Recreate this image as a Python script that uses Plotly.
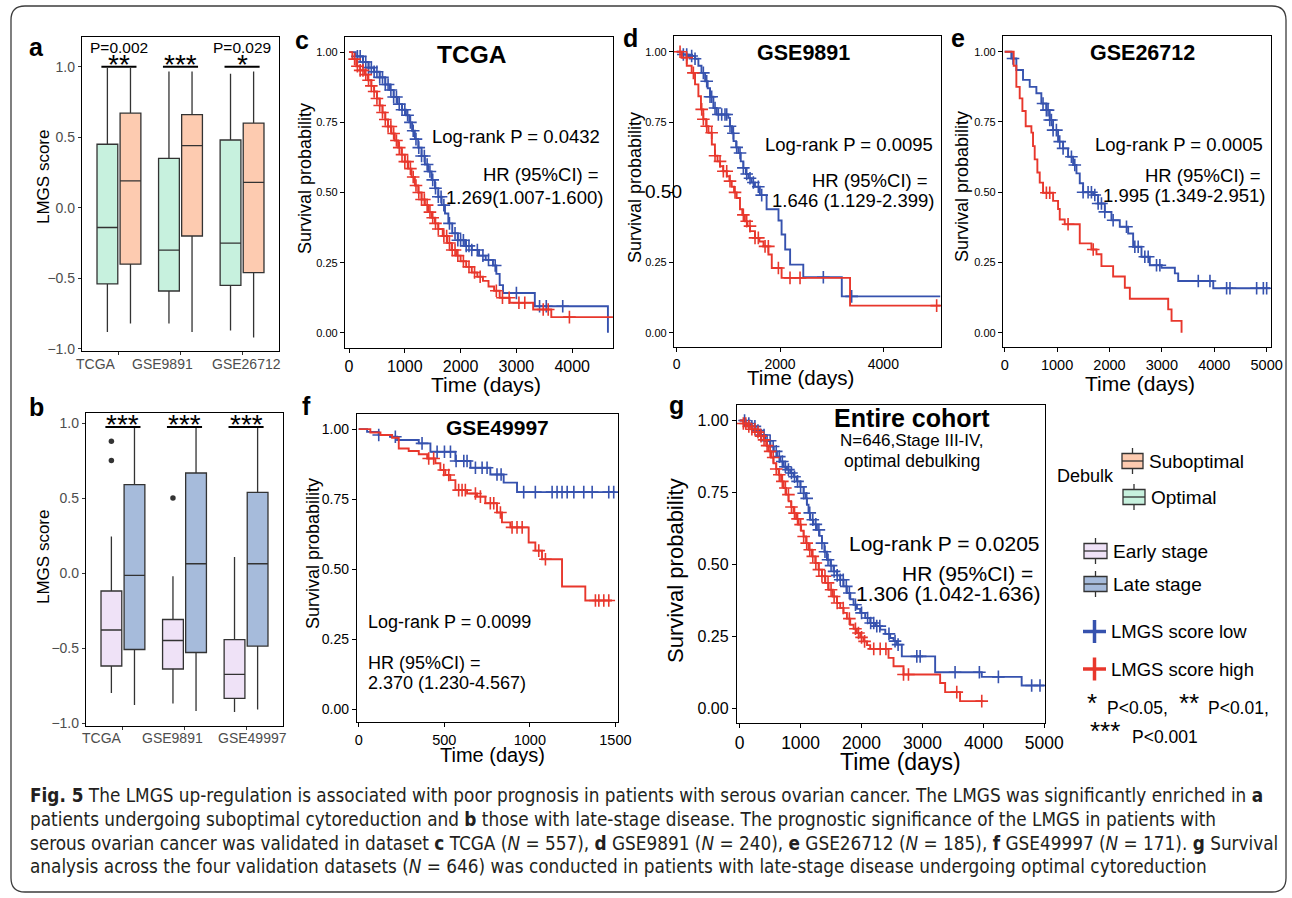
import numpy as np
import plotly.graph_objects as go

W, H = 1292, 898
FONT = "Liberation Sans, Arial, sans-serif"
BLUE = "#3652AE"
RED = "#E8372C"

# ---------------- data: panel a (Debulk) ----------------
a_groups = ["TCGA", "GSE9891", "GSE26712"]
a_opt_low = [-0.88, -0.82, -0.87]
a_opt_q1 = [-0.54, -0.59, -0.55]
a_opt_med = [-0.14, -0.30, -0.25]
a_opt_q3 = [0.45, 0.35, 0.48]
a_opt_high = [0.99, 0.965, 0.95]
a_sub_low = [-0.82, -0.88, -0.92]
a_sub_q1 = [-0.40, -0.20, -0.46]
a_sub_med = [0.19, 0.44, 0.18]
a_sub_q3 = [0.67, 0.66, 0.60]
a_sub_high = [0.99, 0.965, 0.965]
a_stars = ["**", "***", "*"]
a_pvals = ["P=0.002", "", "P=0.029"]

# ---------------- data: panel b (Stage) ----------------
b_groups = ["TCGA", "GSE9891", "GSE49997"]
b_early_low = [-0.80, -0.87, -0.927]
b_early_q1 = [-0.62, -0.64, -0.836]
b_early_med = [-0.38, -0.45, -0.676]
b_early_q3 = [-0.12, -0.31, -0.444]
b_early_high = [0.244, -0.022, 0.107]
b_early_out = [[0.878, 0.751], [0.50], []]
b_late_low = [-0.88, -0.92, -0.91]
b_late_q1 = [-0.51, -0.53, -0.487]
b_late_med = [-0.016, 0.062, 0.062]
b_late_q3 = [0.59, 0.667, 0.538]
b_late_high = [0.967, 0.967, 0.967]
b_stars = ["***", "***", "***"]

# ---------------- data: KM curves ----------------
# panel c: TCGA
c_low_t = [0, 120, 250, 350, 450, 550, 650, 730, 800, 870, 950, 1020, 1080, 1130, 1180, 1240, 1300, 1360,
           1420, 1480, 1540, 1600, 1660, 1720, 1780, 1850, 1950, 2080, 2200, 2330, 2450, 2580, 2640, 2700,
           2760, 3330, 4640]
c_low_s = [1.0, 0.985, 0.965, 0.945, 0.93, 0.91, 0.885, 0.865, 0.84, 0.815, 0.795, 0.775, 0.75, 0.72, 0.69,
           0.66, 0.63, 0.60, 0.575, 0.545, 0.515, 0.485, 0.455, 0.425, 0.39, 0.355, 0.33, 0.31, 0.295, 0.275,
           0.26, 0.24, 0.21, 0.17, 0.142, 0.095, 0.0]
c_low_end = 4640
c_low_cens = [150, 200, 250, 300, 350, 400, 450, 500, 550, 600, 650, 700, 750, 800, 850, 900, 950, 1000, 1050,
              1100, 1150, 1200, 1250, 1300, 1350, 1400, 1450, 1500, 1550, 1600, 1650, 1700, 1800, 1900, 1950,
              2000, 2050, 2100, 2150, 2200, 2300, 2400, 2500, 2620, 3000, 3415, 3535, 3830]
c_high_t = [0, 60, 130, 200, 280, 340, 400, 450, 500, 550, 600, 650, 700, 760, 820, 880, 940, 1000, 1060, 1120,
            1180, 1240, 1300, 1360, 1420, 1480, 1540, 1600, 1680, 1760, 1840, 1920, 2000, 2100, 2200, 2300,
            2400, 2500, 2600, 2700, 2880, 3300, 3625]
c_high_s = [1.0, 0.975, 0.95, 0.935, 0.92, 0.90, 0.88, 0.86, 0.835, 0.81, 0.785, 0.76, 0.735, 0.71, 0.685,
            0.66, 0.635, 0.61, 0.585, 0.555, 0.525, 0.50, 0.475, 0.455, 0.43, 0.41, 0.39, 0.37, 0.345, 0.32,
            0.295, 0.275, 0.255, 0.235, 0.215, 0.20, 0.185, 0.165, 0.15, 0.125, 0.107, 0.083, 0.056]
c_high_end = 4730
c_high_cens = [100, 150, 200, 250, 300, 350, 400, 450, 500, 550, 600, 650, 700, 750, 800, 850, 900, 950, 1000,
               1050, 1100, 1150, 1200, 1250, 1300, 1350, 1400, 1450, 1500, 1550, 1600, 1700, 1750, 1800, 1850,
               1900, 1950, 2050, 2150, 2250, 2350, 2640, 2750, 2870, 3045, 3150, 3480, 3570, 3950]

# panel d: GSE9891
d_low_t = [0, 100, 200, 355, 420, 480, 550, 600, 645, 710, 775, 1000, 1030, 1070, 1100, 1150, 1195, 1240, 1290,
           1340, 1390, 1450, 1515, 1610, 1740, 1970, 2030, 2100, 2195, 2450, 3195]
d_low_s = [1.0, 0.99, 0.985, 0.975, 0.95, 0.925, 0.895, 0.87, 0.84, 0.80, 0.777, 0.765, 0.735, 0.71, 0.682,
           0.66, 0.64, 0.61, 0.587, 0.565, 0.55, 0.535, 0.52, 0.49, 0.44, 0.40, 0.35, 0.297, 0.243, 0.198, 0.13]
d_low_end = 5100
d_low_cens = [129, 194, 290, 355, 516, 581, 645, 677, 742, 806, 871, 935, 968, 1032, 1097, 1161, 1226, 1290,
              1355, 1419, 1484, 1580, 1645, 2838, 3386]
d_high_t = [0, 100, 195, 290, 355, 420, 470, 515, 570, 615, 680, 740, 790, 840, 900, 970, 1020, 1065, 1110,
            1160, 1225, 1270, 1320, 1370, 1420, 1515, 1600, 1680, 1775, 1840, 2030, 3355]
d_high_s = [1.0, 0.979, 0.95, 0.925, 0.884, 0.842, 0.795, 0.76, 0.735, 0.712, 0.67, 0.63, 0.61, 0.593, 0.575,
            0.557, 0.54, 0.52, 0.50, 0.48, 0.44, 0.42, 0.397, 0.38, 0.362, 0.338, 0.325, 0.308, 0.279, 0.231,
            0.196, 0.097]
d_high_end = 5100
d_high_cens = [65, 194, 323, 484, 516, 581, 677, 742, 839, 903, 968, 1032, 1129, 1290, 1355, 1419, 1516, 1580,
               1710, 1774, 1968, 2193, 2387, 5031]

# panel e: GSE26712
e_low_t = [0, 127, 223, 350, 478, 605, 700, 796, 860, 924, 1019, 1115, 1210, 1306, 1370, 1433, 1497, 1688,
           1783, 1911, 2038, 2197, 2357, 2452, 2611, 2770, 2994, 3248, 3312, 3981]
e_low_s = [1.0, 0.976, 0.935, 0.90, 0.875, 0.852, 0.816, 0.792, 0.757, 0.721, 0.68, 0.656, 0.626, 0.597,
           0.567, 0.532, 0.50, 0.49, 0.46, 0.43, 0.40, 0.377, 0.353, 0.306, 0.27, 0.24, 0.231, 0.211, 0.184,
           0.158]
e_low_end = 5064
e_low_cens = [159, 732, 796, 828, 860, 892, 924, 987, 1051, 1115, 1274, 1338, 1497, 1592, 1656, 1720, 1784,
              1847, 1911, 2070, 2325, 2484, 2548, 2675, 2739, 2898, 2962, 3695, 3918, 4236, 4300, 4809, 4937,
              5000]
e_high_t = [0, 172, 223, 287, 338, 401, 510, 541, 573, 624, 669, 732, 924, 1019, 1051, 1146, 1433, 1656, 1752,
            1847, 2070, 2293, 2389, 3121, 3185, 3376]
e_high_s = [1.0, 0.95, 0.875, 0.834, 0.789, 0.735, 0.712, 0.664, 0.617, 0.57, 0.534, 0.498, 0.469, 0.44,
            0.403, 0.386, 0.318, 0.296, 0.279, 0.237, 0.20, 0.16, 0.121, 0.083, 0.042, 0.0]
e_high_end = 3376
e_high_cens = [796, 860, 1210, 1690]

# panel f: GSE49997
f_low_t = [0, 49, 117, 185, 224, 351, 419, 565, 653, 769, 847, 925]
f_low_s = [1.0, 0.99, 0.979, 0.973, 0.961, 0.949, 0.919, 0.886, 0.862, 0.838, 0.809, 0.775]
f_low_end = 1500
f_low_cens = [117, 214, 370, 458, 501, 536, 569, 614, 633, 682, 721, 750, 808, 832, 964, 1032, 1130, 1159,
              1188, 1218, 1257, 1315, 1364, 1461, 1490]
f_high_t = [0, 68, 127, 195, 234, 292, 351, 400, 448, 477, 506, 535, 565, 633, 691, 740, 808, 837, 886, 993,
            1032, 1071, 1188, 1324]
f_high_s = [1.0, 0.988, 0.979, 0.969, 0.931, 0.922, 0.91, 0.895, 0.878, 0.854, 0.836, 0.818, 0.782, 0.77,
            0.759, 0.735, 0.702, 0.667, 0.649, 0.595, 0.566, 0.535, 0.438, 0.388]
f_high_end = 1480
f_high_cens = [409, 438, 497, 526, 584, 604, 623, 682, 711, 769, 789, 828, 896, 925, 955, 1052, 1091, 1383,
               1403, 1432, 1461]

# panel g: entire cohort
g_low_t = [0, 100, 175, 260, 339, 420, 503, 560, 612, 665, 721, 776, 831, 885, 940, 995, 1049, 1080, 1104,
           1130, 1158, 1210, 1268, 1310, 1350, 1390, 1432, 1490, 1541, 1600, 1650, 1705, 1760, 1815, 1869,
           1925, 1978, 2060, 2142, 2225, 2306, 2390, 2470, 2525, 2579, 2661, 3208, 3973, 4628]
g_low_s = [1.0, 0.99, 0.98, 0.965, 0.95, 0.93, 0.91, 0.893, 0.875, 0.858, 0.84, 0.83, 0.818, 0.805, 0.789,
           0.77, 0.748, 0.73, 0.708, 0.68, 0.656, 0.64, 0.621, 0.60, 0.575, 0.545, 0.517, 0.497, 0.477, 0.463,
           0.448, 0.425, 0.402, 0.38, 0.361, 0.347, 0.333, 0.315, 0.298, 0.287, 0.275, 0.26, 0.246, 0.235,
           0.223, 0.182, 0.127, 0.111, 0.081]
g_low_end = 5000
g_low_cens = [80, 150, 200, 250, 300, 350, 400, 450, 500, 550, 600, 650, 700, 750, 800, 850, 900, 950, 1000,
              1050, 1100, 1150, 1200, 1250, 1300, 1350, 1400, 1450, 1500, 1550, 1600, 1650, 1700, 1750, 1800,
              1900, 2000, 2100, 2150, 2200, 2250, 2300, 2450, 2550, 2600, 2907, 2962, 3535, 3934, 4246, 4792,
              4929]
g_high_t = [0, 60, 120, 190, 257, 325, 393, 435, 475, 515, 557, 600, 639, 680, 721, 762, 803, 844, 885, 926,
            967, 1008, 1049, 1090, 1131, 1185, 1240, 1295, 1350, 1405, 1459, 1527, 1596, 1650, 1705, 1760,
            1814, 1870, 1923, 1978, 2033, 2090, 2142, 2443, 2525, 2689, 3290, 3372, 3617]
g_high_s = [1.0, 0.99, 0.98, 0.97, 0.96, 0.946, 0.933, 0.913, 0.893, 0.872, 0.852, 0.832, 0.812, 0.789,
            0.766, 0.743, 0.72, 0.70, 0.679, 0.659, 0.639, 0.618, 0.598, 0.575, 0.552, 0.529, 0.506, 0.483,
            0.46, 0.437, 0.413, 0.39, 0.367, 0.35, 0.333, 0.313, 0.292, 0.278, 0.263, 0.248, 0.234, 0.221,
            0.208, 0.177, 0.148, 0.119, 0.09, 0.058, 0.027]
g_high_end = 4000
g_high_cens = [60, 100, 150, 200, 250, 300, 350, 400, 450, 500, 550, 600, 650, 700, 750, 800, 850, 900, 950,
               1000, 1050, 1100, 1150, 1200, 1250, 1300, 1350, 1400, 1450, 1500, 1550, 1600, 1700, 1800, 1900,
               1950, 2000, 2050, 2200, 2306, 2400, 2689, 2770, 3563, 3973]

# ---------------- text ----------------
km_stats = {
    "c": ("Log-rank P = 0.0432", "HR (95%CI) =", "1.269(1.007-1.600)"),
    "d": ("Log-rank P = 0.0095", "HR (95%CI) =", "1.646 (1.129-2.399)"),
    "e": ("Log-rank P = 0.0005", "HR (95%CI) =", "1.995 (1.349-2.951)"),
    "f": ("Log-rank P = 0.0099", "HR (95%CI) =", "2.370 (1.230-4.567)"),
    "g": ("Log-rank P = 0.0205", "HR (95%CI) =", "1.306 (1.042-1.636)"),
}
caption = [
    "<b>Fig. 5</b> The LMGS up-regulation is associated with poor prognosis in patients with serous ovarian cancer. "
    "The LMGS was significantly enriched in <b>a</b>",
    "patients undergoing suboptimal cytoreduction and <b>b</b> those with late-stage disease. The prognostic "
    "significance of the LMGS in patients with",
    "serous ovarian cancer was validated in dataset <b>c</b> TCGA (<i>N</i> = 557), <b>d</b> GSE9891 (<i>N</i> = 240), "
    "<b>e</b> GSE26712 (<i>N</i> = 185), <b>f</b> GSE49997 (<i>N</i> = 171). <b>g</b> Survival",
    "analysis across the four validation datasets (<i>N</i> = 646) was conducted in patients with late-stage "
    "disease undergoing optimal cytoreduction",
]

# ---------------- helpers ----------------
def dx(p0, p1):
    return [p0 / W, p1 / W]


def dy(p0, p1):
    return [1 - p1 / H, 1 - p0 / H]


annotations = []
shapes = []


def A(text, px, py, size=14, xanchor="center", yanchor="middle", color="black", angle=0, family=FONT):
    annotations.append(dict(text=text, x=px / W, y=1 - py / H, xref="paper", yref="paper",
                            xanchor=xanchor, yanchor=yanchor, showarrow=False, textangle=angle,
                            font=dict(size=size, color=color, family=family)))


fig = go.Figure()

# ---------------- box panels ----------------
BOX_LINE = dict(color="#333333", width=1.3)


def add_box(groups, low, q1, med, q3, high, color, ax, name, slot, out=None):
    if out is not None:
        kw = dict(y=out, boxpoints="outliers",
                  marker=dict(color="#333333", size=5.5, outliercolor="#333333"))
    else:
        kw = dict(boxpoints=False)
    fig.add_trace(go.Box(x=groups, q1=q1, median=med, q3=q3, lowerfence=low, upperfence=high,
                         fillcolor=color, line=BOX_LINE, whiskerwidth=0, name=name, showlegend=False,
                         offsetgroup=slot, xaxis="x" + ax, yaxis="y" + ax, hoverinfo="skip", **kw))


add_box(a_groups, a_opt_low, a_opt_q1, a_opt_med, a_opt_q3, a_opt_high, "#C7F1DE", "", "Optimal", "L")
add_box(a_groups, a_sub_low, a_sub_q1, a_sub_med, a_sub_q3, a_sub_high, "#FDCBB0", "", "Suboptimal", "R")
add_box(b_groups, b_early_low, b_early_q1, b_early_med, b_early_q3, b_early_high, "#EFE2F7", "2",
        "Early stage", "L", out=b_early_out)
add_box(b_groups, b_late_low, b_late_q1, b_late_med, b_late_q3, b_late_high, "#A6BBDB", "2", "Late stage", "R")


def sig_marks(groups, stars, bar_y, xref, yref, shift):
    for i, s_ in enumerate(stars):
        shapes.append(dict(type="line", xref=xref, yref=yref, x0=i - 0.285, x1=i + 0.285, y0=bar_y, y1=bar_y,
                           line=dict(color="black", width=2)))
        annotations.append(dict(text=s_, x=groups[i], y=bar_y, xref=xref, yref=yref, showarrow=False,
                                xanchor="center", yanchor="middle", yshift=shift,
                                font=dict(size=28, color="black", family=FONT)))


sig_marks(a_groups, a_stars, 1.0, "x", "y", 2)
sig_marks(b_groups, b_stars, 0.973, "x2", "y2", 3)
for i, p in enumerate(a_pvals):
    if p:
        annotations.append(dict(text=p, x=a_groups[i], y=1.135, xref="x", yref="y", showarrow=False,
                                font=dict(size=15.5, color="black", family=FONT)))

box_axis = dict(showline=True, mirror=True, linecolor="black", linewidth=1.3, showgrid=False, zeroline=False,
                automargin=False, ticks="outside", ticklen=3, tickcolor="#333333",
                tickfont=dict(size=14, color="#4D4D4D"))

# tick labels for box x axes (slightly offset as in original)
for txt, px in zip(a_groups, [96, 162, 247]):
    A(txt, px, 364, size=14, color="#4D4D4D")
for txt, px in zip(b_groups, [102, 172, 252]):
    A(txt, px, 738, size=14, color="#4D4D4D")
A("LMGS score", 43, 177, size=17, angle=-90)
A("LMGS score", 43, 557, size=17, angle=-90)


# ---------------- KM panels ----------------
def km(t, s, t_end, cens, color, ax):
    t = np.asarray(t, float)
    s = np.asarray(s, float)
    tt, ss = t, s
    if t_end > t[-1]:
        tt = np.append(t, t_end)
        ss = np.append(s, s[-1])
    fig.add_trace(go.Scatter(x=tt, y=ss, mode="lines", line=dict(color=color, width=1.9, shape="hv"),
                             xaxis="x" + ax, yaxis="y" + ax, showlegend=False, hoverinfo="skip"))
    c = np.asarray(cens, float)
    idx = np.searchsorted(t, c, side="right") - 1
    fig.add_trace(go.Scatter(x=c, y=s[idx], mode="markers",
                             marker=dict(symbol="cross-thin", size=9, color=color,
                                         line=dict(color=color, width=1.6)),
                             xaxis="x" + ax, yaxis="y" + ax, showlegend=False, hoverinfo="skip"))


km(c_low_t, c_low_s, c_low_end, c_low_cens, BLUE, "3")
km(c_high_t, c_high_s, c_high_end, c_high_cens, RED, "3")
km(d_low_t, d_low_s, d_low_end, d_low_cens, BLUE, "4")
km(d_high_t, d_high_s, d_high_end, d_high_cens, RED, "4")
km(e_low_t, e_low_s, e_low_end, e_low_cens, BLUE, "5")
km(e_high_t, e_high_s, e_high_end, e_high_cens, RED, "5")
km(f_low_t, f_low_s, f_low_end, f_low_cens, BLUE, "6")
km(f_high_t, f_high_s, f_high_end, f_high_cens, RED, "6")
km(g_low_t, g_low_s, g_low_end, g_low_cens, BLUE, "7")
km(g_high_t, g_high_s, g_high_end, g_high_cens, RED, "7")


def km_axes(xdom, ydom, xr, yr, xt, xfs, yfs, anchor, ytext=None):
    base = dict(showline=True, mirror=True, linecolor="black", linewidth=1.3, showgrid=False, zeroline=False,
                automargin=False, ticks="outside", ticklen=4, tickcolor="black", tickwidth=1)
    xa = dict(base, domain=xdom, range=xr, tickvals=xt, tickfont=dict(size=xfs, color="black"),
              anchor="y" + anchor)
    yv = [0, 0.25, 0.5, 0.75, 1.0]
    ya = dict(base, domain=ydom, range=yr, tickvals=yv,
              ticktext=ytext or ["0.00", "0.25", "0.50", "0.75", "1.00"],
              tickfont=dict(size=yfs, color="black"), anchor="x" + anchor)
    return xa, ya


layout_axes = {}
layout_axes["xaxis"] = dict(box_axis, domain=dx(82, 279), range=[-0.6, 2.6], anchor="y", showticklabels=False,
                            type="category")
layout_axes["yaxis"] = dict(box_axis, domain=dy(37, 351), range=[-1.015, 1.21], anchor="x",
                            tickvals=[-1, -0.5, 0, 0.5, 1], ticktext=["\u22121.0", "\u22120.5", "0.0", "0.5", "1.0"])
layout_axes["xaxis2"] = dict(box_axis, domain=dx(86, 283), range=[-0.6, 2.6], anchor="y2", showticklabels=False,
                             type="category")
layout_axes["yaxis2"] = dict(box_axis, domain=dy(413, 726), range=[-1.02, 1.067], anchor="x2",
                             tickvals=[-1, -0.5, 0, 0.5, 1], ticktext=["\u22121.0", "\u22120.5", "0.0", "0.5", "1.0"])
xa, ya = km_axes(dx(345, 613), dy(37, 348), [-72, 4731], [-0.054, 1.054], [0, 1000, 2000, 3000, 4000], 16, 11, "3")
layout_axes["xaxis3"], layout_axes["yaxis3"] = xa, ya
xa, ya = km_axes(dx(674, 941), dy(36, 347), [-52, 5115], [-0.05, 1.056], [0, 2000, 4000], 14, 11, "4",
                 ytext=["0.00", "0.25", "", "0.75", "1.00"])
layout_axes["xaxis4"], layout_axes["yaxis4"] = xa, ya
xa, ya = km_axes(dx(1003, 1271), dy(36, 347), [-32, 5083], [-0.051, 1.056], [0, 1000, 2000, 3000, 4000, 5000],
                 14.5, 11, "5")
layout_axes["xaxis5"], layout_axes["yaxis5"] = xa, ya
xa, ya = km_axes(dx(357, 618), dy(414, 722), [-10, 1515], [-0.046, 1.054], [0, 500, 1000, 1500], 14.5, 14, "6")
layout_axes["xaxis6"], layout_axes["yaxis6"] = xa, ya
xa, ya = km_axes(dx(737, 1045), dy(405, 723), [-44, 5011], [-0.049, 1.054], [0, 1000, 2000, 3000, 4000, 5000],
                 17.5, 16, "7")
layout_axes["xaxis7"], layout_axes["yaxis7"] = xa, ya

# KM titles / axis titles / stats
A("<b>TCGA</b>", 472, 54, size=24.5)
A("<b>GSE9891</b>", 803, 53, size=21.5)
A("<b>GSE26712</b>", 1142, 53, size=21.5)
A("<b>GSE49997</b>", 497, 427, size=21)
A("<b>Entire cohort</b>", 912, 418, size=25)
A("N=646,Stage III-IV,", 912, 441, size=17)
A("optimal debulking", 912, 461, size=17.5)

A("Survival probability", 305, 179, size=18, angle=-90)
A("Time (days)", 486, 385, size=21)
A("Survival probability", 635, 188, size=18, angle=-90)
A("Time (days)", 800, 377, size=20.5)
A("0.50", 684, 192, size=19, xanchor="right")
A("Survival probability", 962, 187, size=18, angle=-90)
A("Time (days)", 1140, 384, size=21)
A("Survival probability", 313, 554, size=18, angle=-90)
A("Time (days)", 492, 755, size=20)
A("Survival probability", 675, 571, size=22, angle=-90)
A("Time (days)", 901, 762, size=23)

st = km_stats
A(st["c"][0], 602, 137, size=18.5, xanchor="right")
A(st["c"][1], 601, 175, size=18.5, xanchor="right")
A(st["c"][2], 605, 197, size=18.5, xanchor="right")
A(st["d"][0], 935, 144, size=18.5, xanchor="right")
A(st["d"][1], 930, 181, size=18.5, xanchor="right")
A(st["d"][2], 937, 200, size=18.5, xanchor="right")
A(st["e"][0], 1265, 144, size=18.5, xanchor="right")
A(st["e"][1], 1263, 176, size=18.5, xanchor="right")
A(st["e"][2], 1268, 195, size=18.5, xanchor="right")
A(st["f"][0], 366, 622, size=18, xanchor="left")
A(st["f"][1], 366, 663, size=18, xanchor="left")
A(st["f"][2], 366, 683, size=18, xanchor="left")
A(st["g"][0], 1042, 543, size=21, xanchor="right")
A(st["g"][1], 1035, 573, size=21, xanchor="right")
A(st["g"][2], 1042, 593, size=21, xanchor="right")

# panel letters
for letter, px, py in [("a", 36, 47), ("b", 36, 407), ("c", 302, 40), ("d", 630, 38), ("e", 958, 38),
                       ("f", 306, 406), ("g", 676, 405)]:
    A("<b>%s</b>" % letter, px, py, size=25)


# ---------------- legend (drawn) ----------------
def rect_px(x0, y0, x1, y1, fill, lw=1.3, lc="#333333"):
    shapes.append(dict(type="rect", xref="paper", yref="paper", x0=x0 / W, x1=x1 / W, y0=1 - y1 / H,
                       y1=1 - y0 / H, fillcolor=fill, line=dict(color=lc, width=lw)))


def line_px(x0, y0, x1, y1, color="#333333", lw=1.3):
    shapes.append(dict(type="line", xref="paper", yref="paper", x0=x0 / W, x1=x1 / W, y0=1 - y0 / H,
                       y1=1 - y1 / H, line=dict(color=color, width=lw)))


def box_key(x0, x1, yc, fill):
    xc = (x0 + x1) / 2
    line_px(xc, yc - 13, xc, yc + 13)
    rect_px(x0, yc - 7.5, x1, yc + 7.5, fill)
    line_px(x0, yc, x1, yc)


box_key(1122, 1143, 461, "#FDCBB0")
box_key(1123, 1145, 497, "#C7F1DE")
box_key(1084, 1107, 551, "#EFE2F7")
box_key(1084, 1107, 584, "#A6BBDB")
for yc, col in [(631.5, BLUE), (669, RED)]:
    line_px(1083, yc, 1106, yc, color=col, lw=3.5)
    line_px(1094.5, yc - 11.5, 1094.5, yc + 11.5, color=col, lw=3.5)

A("Debulk", 1055, 476, size=18, xanchor="left")
A("Suboptimal", 1147, 461, size=19, xanchor="left")
A("Optimal", 1149, 497, size=19, xanchor="left")
A("Early stage", 1111, 551, size=19, xanchor="left")
A("Late stage", 1111, 584, size=19, xanchor="left")
A("LMGS score low", 1109, 631, size=18.5, xanchor="left")
A("LMGS score high", 1109, 669, size=18.5, xanchor="left")
A("*", 1092, 703, size=26)
A("P<0.05,", 1105, 708, size=17.5, xanchor="left")
A("**", 1189, 703, size=26)
A("P<0.01,", 1206, 708, size=17.5, xanchor="left")
A("***", 1105, 731, size=26)
A("P<0.001", 1130, 737, size=17.5, xanchor="left")

# ---------------- caption ----------------
CAP_FONT = "Liberation Sans Narrow, Arial Narrow, DejaVu Sans Condensed, Roboto Condensed, sans-serif"
for line, py in zip(caption, [795, 819, 843, 866]):
    A(line, 28, py, size=18.8, xanchor="left", color="#231F20", family=CAP_FONT)

# ---------------- outer rounded frame ----------------
x0, y0, x1, y1, r = 11, 6, 1286, 892, 14


def P(px, py):
    return "%.5f,%.5f" % (px / W, 1 - py / H)


path = ("M " + P(x0 + r, y0) + " L " + P(x1 - r, y0) + " Q " + P(x1, y0) + " " + P(x1, y0 + r) +
        " L " + P(x1, y1 - r) + " Q " + P(x1, y1) + " " + P(x1 - r, y1) +
        " L " + P(x0 + r, y1) + " Q " + P(x0, y1) + " " + P(x0, y1 - r) +
        " L " + P(x0, y0 + r) + " Q " + P(x0, y0) + " " + P(x0 + r, y0) + " Z")
shapes.append(dict(type="path", xref="paper", yref="paper", path=path, line=dict(color="#3C3C3C", width=1.3)))

fig.update_layout(
    width=W, height=H, margin=dict(l=0, r=0, t=0, b=0, autoexpand=False),
    paper_bgcolor="white", plot_bgcolor="white",
    font=dict(family=FONT, color="black"),
    boxmode="group", boxgap=0.25, boxgroupgap=0.1,
    showlegend=False,
    annotations=annotations, shapes=shapes,
    **layout_axes,
)

# pin the figure to the top-left corner of the page
POST = ("document.documentElement.style.margin='0';document.documentElement.style.overflow='hidden';"
        "document.body.style.margin='0';document.body.style.overflow='hidden';"
        "var gd=document.getElementById('{plot_id}');gd.style.position='fixed';gd.style.left='0px';"
        "gd.style.top='0px';")
fig.write_html("out.html", config={"displayModeBar": False}, post_script=POST)
